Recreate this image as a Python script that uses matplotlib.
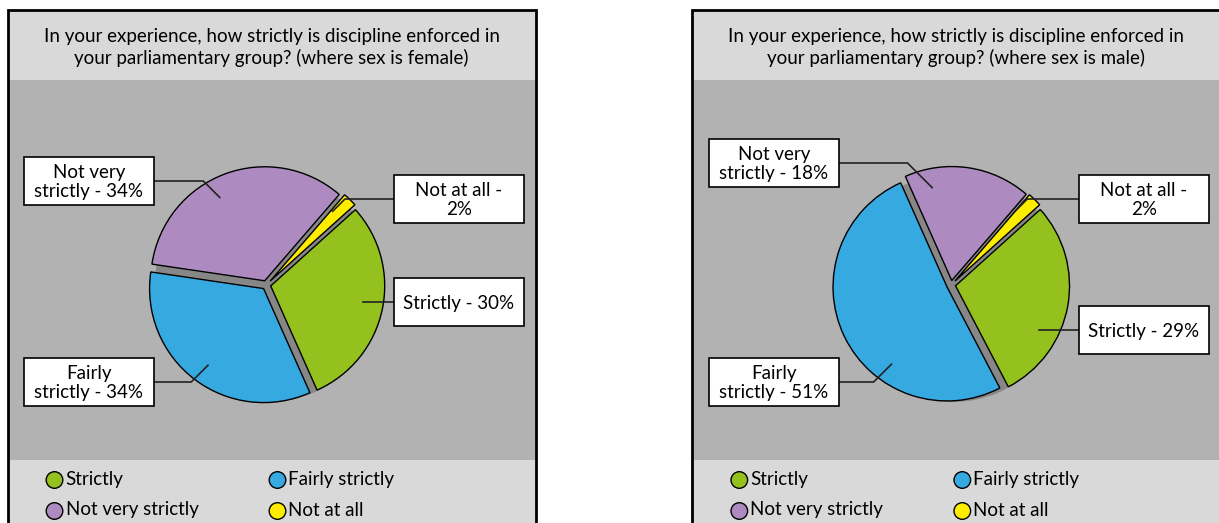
import textwrap
import matplotlib.pyplot as plt
import matplotlib.patches as mpatches
import numpy as np

# Data
categories = ["Strictly", "Fairly strictly", "Not very strictly", "Not at all"]
female_values = [30, 34, 34, 2]
male_values = [29, 51, 18, 2]
titles = [
    "In your experience, how strictly is discipline enforced in\nyour parliamentary group? (where sex is female)",
    "In your experience, how strictly is discipline enforced in\nyour parliamentary group? (where sex is male)",
]
colors = ["#95c11f", "#36a9e1", "#ad8bc0", "#ffed00"]

W, H = 1219, 523
FONT = "Lato"
FS = 13.5

fig = plt.figure(figsize=(W / 100, H / 100), dpi=100)
ax = fig.add_axes([0, 0, 1, 1])


def Y(y):
    # image rows (top down) -> data y (bottom up)
    return H - y


def rect(x0, y0, x1, y1, **kw):
    ax.add_patch(mpatches.Rectangle((x0, Y(y1)), x1 - x0, y1 - y0, **kw))


# layout per panel: left edge, label boxes (x offset, top row), leader anchor angles
panels = [
    dict(left=7.5, values=female_values, title=titles[0],
         boxes=[(386.5, 278), (16.5, 358), (16.5, 157), (386.5, 175)],
         anchors=[-12, -126, 118, 48]),
    dict(left=692.3, values=male_values, title=titles[1],
         boxes=[(386.7, 306), (16.7, 358), (16.7, 139), (386.7, 175)],
         anchors=[-28, -127, 101, 49]),
]

PW = 528
R = 114
BOX_W, BOX_H = 130, 48

for p in panels:
    L = p["left"]
    # backgrounds
    rect(L, 10, L + PW, 80, facecolor="#d9d9d9", edgecolor="none", zorder=0)
    rect(L, 80, L + PW, 460, facecolor="#b2b2b2", edgecolor="none", zorder=0)
    rect(L, 460, L + PW, 530, facecolor="#d9d9d9", edgecolor="none", zorder=0)
    rect(L, 10, L + PW, 530, facecolor="none", edgecolor="black", linewidth=2, zorder=1)

    ax.text(L + PW / 2, Y(47.5), p["title"], ha="center", va="center",
            fontsize=FS, family=FONT, linespacing=1.3, zorder=2)

    cx, cy = L + 258.8, Y(285)
    # dark base disc showing in the gaps
    ax.pie([1], colors=["#878787"], radius=R, center=(cx + 2, cy - 3),
           wedgeprops=dict(linewidth=0), frame=True)
    vals = p["values"]
    ax.pie(vals, colors=colors, startangle=42, counterclock=False,
           explode=[4.5, 4.5, 4.5, 5.5], radius=R, center=(cx, cy),
           wedgeprops=dict(edgecolor="black", linewidth=1), frame=True)

    # callout boxes with leader lines
    for cat, v, (bx, by), ang in zip(categories, vals, p["boxes"], p["anchors"]):
        x0 = L + bx
        rect(x0, by, x0 + BOX_W, by + BOX_H, facecolor="white",
             edgecolor="black", linewidth=1.2, zorder=4)
        label = "\n".join(textwrap.wrap(f"{cat} - {v}%", 14))
        ax.text(x0 + BOX_W / 2, Y(by + BOX_H / 2) - 1, label, ha="center", va="center",
                fontsize=FS, family=FONT, linespacing=1.2, zorder=5)
        a = np.radians(ang)
        axp = cx + 0.87 * R * np.cos(a)
        ayp = cy + 0.87 * R * np.sin(a)
        ly = Y(by + BOX_H / 2)
        if axp < x0:
            s, bxe = 1, x0
        else:
            s, bxe = -1, x0 + BOX_W
        dy = abs(ly - ayp)
        if dy < 6:
            # straight horizontal leader
            ax.plot([axp, bxe], [ly, ly], color="#222222", linewidth=1.2, zorder=3)
        else:
            ex = axp + s * dy
            ax.plot([axp, ex, bxe], [ayp, ly, ly], color="#222222", linewidth=1.2, zorder=3)

    # legend
    leg_pos = [(47, 480), (270, 480), (47, 511), (270, 511)]
    for cat, col, (lx, ly) in zip(categories, colors, leg_pos):
        ax.add_patch(mpatches.Circle((L + lx, Y(ly)), 8.3, facecolor=col,
                                     edgecolor="black", linewidth=1, zorder=3))
        ax.text(L + lx + 11, Y(ly) + 1, cat, ha="left", va="center",
                fontsize=FS, family=FONT, zorder=3)

ax.set_xlim(0, W)
ax.set_ylim(0, H)
ax.set_aspect("auto")
ax.axis("off")

fig.savefig("out.png", dpi=100, facecolor="white")
